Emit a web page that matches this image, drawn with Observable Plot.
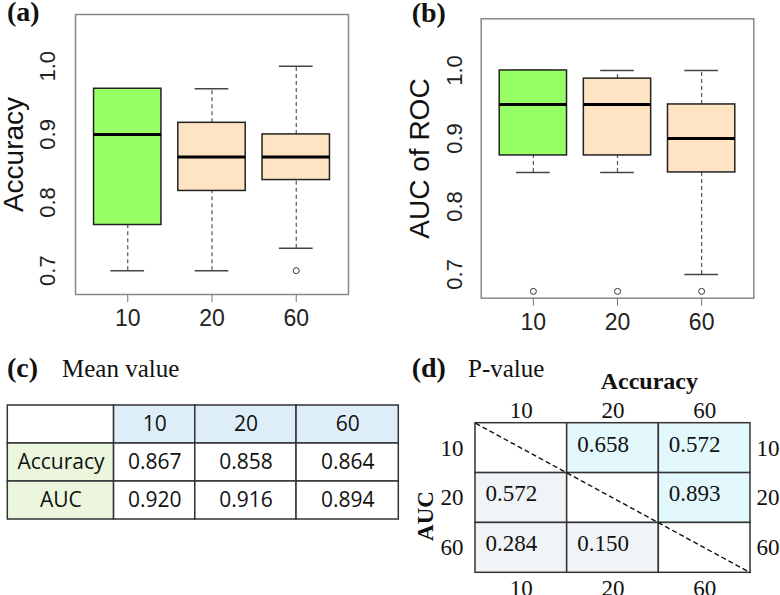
<!DOCTYPE html>
<html><head><meta charset="utf-8">
<script src="https://cdn.jsdelivr.net/npm/d3@7"></script>
<script src="https://cdn.jsdelivr.net/npm/@observablehq/plot@0.6"></script>
<style>
html,body{margin:0;padding:0;background:#fff;}
#root{position:relative;width:780px;height:595px;overflow:hidden;background:#fff;}
#root > .p{position:absolute;}
#root svg{overflow:visible;}
</style></head><body><div id="root"></div>
<script>
// ---------------- data ----------------
const groups = ["10", "20", "60"];
// (a) Accuracy box statistics
const accLower   = [0.700, 0.700, 0.733];
const accQ1      = [0.767, 0.817, 0.833];
const accMedian  = [0.900, 0.867, 0.867];
const accQ3      = [0.967, 0.917, 0.900];
const accUpper   = [0.967, 0.967, 1.000];
const accOutliers = [[], [], [0.700]];
// (b) AUC of ROC box statistics
const aucLower   = [0.850, 0.850, 0.700];
const aucQ1      = [0.875, 0.875, 0.850];
const aucMedian  = [0.950, 0.950, 0.900];
const aucQ3      = [1.000, 0.988, 0.950];
const aucUpper   = [1.000, 1.000, 1.000];
const aucOutliers = [[0.675], [0.675], [0.675]];
const yTicks = [0.7, 0.8, 0.9, 1.0];
// (c) mean values
const meanRows = ["Accuracy", "AUC"];
const meanAccuracy = [0.867, 0.858, 0.864];
const meanAUC      = [0.920, 0.916, 0.894];
// (d) p-values
const pairs = [["10", "20"], ["10", "60"], ["20", "60"]];
const pAccuracy = [0.658, 0.572, 0.893];
const pAUC      = [0.572, 0.284, 0.150];

// ---------------- style ----------------
const boxFills = ["#99FF66", "#FFE4C4", "#FFE4C4"];
const sans = "'Liberation Sans', Arial, sans-serif";
const serif = "'Liberation Serif', 'Times New Roman', serif";
const root = document.getElementById("root");

function place(node, left, top) {
  node.classList.add("p");
  node.style.left = left + "px";
  node.style.top = top + "px";
  root.appendChild(node);
}

function boxPlot(s, L) {
  const data = groups.map((g, i) => ({g, i: i + 1, lo: s.lower[i], q1: s.q1[i], med: s.median[i], q3: s.q3[i], hi: s.upper[i]}));
  const outs = groups.flatMap((g, i) => s.outliers[i].map(v => ({g, i: i + 1, v})));
  const half = 0.4, cap = 0.2;
  return Plot.plot({
    width: L.width, height: L.height,
    marginLeft: L.ml, marginRight: L.mr, marginTop: L.mt, marginBottom: L.mb,
    style: {fontFamily: sans, background: "transparent", overflow: "visible"},
    x: {domain: [0.38, 3.62]},
    y: {domain: [0.665, 1.076]},
    color: {domain: groups, range: boxFills},
    marks: [
      Plot.ruleX(data, {x: "i", y1: "q3", y2: "hi", stroke: "#555", strokeWidth: 1.2, strokeDasharray: "4,3"}),
      Plot.ruleX(data, {x: "i", y1: "lo", y2: "q1", stroke: "#555", strokeWidth: 1.2, strokeDasharray: "4,3"}),
      Plot.ruleY(data, {y: "hi", x1: d => d.i - cap, x2: d => d.i + cap, stroke: "#444", strokeWidth: 1.5}),
      Plot.ruleY(data, {y: "lo", x1: d => d.i - cap, x2: d => d.i + cap, stroke: "#444", strokeWidth: 1.5}),
      Plot.rect(data, {x1: d => d.i - half, x2: d => d.i + half, y1: "q1", y2: "q3", fill: "g", stroke: "#222", strokeWidth: 1.5}),
      Plot.ruleY(data, {y: "med", x1: d => d.i - half, x2: d => d.i + half, stroke: "#000", strokeWidth: 3}),
      Plot.dot(outs, {x: "i", y: "v", r: 3, stroke: "#333", strokeWidth: 1, fill: "none"}),
      Plot.frame({stroke: "#888", strokeWidth: 1.5}),
      Plot.axisX({ticks: [1, 2, 3], tickFormat: t => groups[t - 1], tickSize: 8, tickPadding: 7, stroke: "#777", fill: "#222", fontSize: 23, label: null}),
      Plot.axisY({ticks: yTicks, tickFormat: d3.format(".1f"), tickRotate: -90, tickSize: 0, tickPadding: L.tp, fill: "#222", fontSize: 22, label: null}),
      Plot.text([s.label], {frameAnchor: "left", textAnchor: "middle", lineAnchor: "middle", dx: L.ldx, rotate: -90, fontSize: 28, fill: "#111", text: d => d})
    ]
  });
}

// (a)
place(boxPlot({lower: accLower, q1: accQ1, median: accMedian, q3: accQ3, upper: accUpper, outliers: accOutliers, label: "Accuracy"},
  {width: 390, height: 330, ml: 75, mr: 42, mt: 14, mb: 36, tp: 21, ldx: -61.5}), 0, 0);
// (b)
place(boxPlot({lower: aucLower, q1: aucQ1, median: aucMedian, q3: aucQ3, upper: aucUpper, outliers: aucOutliers, label: "AUC of ROC"},
  {width: 390, height: 334, ml: 90.7, mr: 26.7, mt: 18.3, mb: 36.3, tp: 19, ldx: -61.5}), 390, 0);

// (c) mean value table
const tableColWeights = [106, 81, 101, 102];   // layout: relative column widths
const bounds = d3.cumsum([0, ...tableColWeights]);
const headKey = " ";
const meanCells = [{row: headKey, c: 0, label: "", fill: "#FFFFFF"}]
  .concat(groups.map((g, j) => ({row: headKey, c: j + 1, label: g, fill: "#DDEEF9"})))
  .concat(meanRows.flatMap((r, k) => {
    const vals = k === 0 ? meanAccuracy : meanAUC;
    return [{row: r, c: 0, label: r, fill: "#EBF6DD"}]
      .concat(vals.map((v, j) => ({row: r, c: j + 1, label: v.toFixed(3), fill: "#FFFFFF"})));
  }));
place(Plot.plot({
  width: 400, height: 130, marginLeft: 7.3, marginRight: 1.7, marginTop: 9.3, marginBottom: 6.3,
  style: {fontFamily: "'Open Sans', 'Noto Sans', sans-serif", background: "transparent", overflow: "visible"},
  x: {domain: [0, bounds[bounds.length - 1]], axis: null},
  y: {type: "band", domain: [headKey, ...meanRows], padding: 0, axis: null},
  color: {type: "identity"},
  marks: [
    Plot.barX(meanCells, {x1: d => bounds[d.c], x2: d => bounds[d.c + 1], y: "row", fill: "fill", stroke: "#333", strokeWidth: 1.5}),
    Plot.text(meanCells, {x: d => (bounds[d.c] + bounds[d.c + 1]) / 2, y: "row", text: "label", fontSize: 21, fill: "#111"})
  ]
}), 0, 395);

// (d) p-value grid
const pCells = [];
groups.forEach((rg, r) => groups.forEach((cg, c) => {
  let v = null, kind = "diag";
  if (c > r) { v = pAccuracy[pairs.findIndex(p => p[0] === rg && p[1] === cg)]; kind = "acc"; }
  else if (c < r) { v = pAUC[pairs.findIndex(p => p[0] === cg && p[1] === rg)]; kind = "auc"; }
  pCells.push({r, c, v, kind});
}));
const n = groups.length;
const mid = groups.map((g, i) => i + 0.5);
const lab = t => groups[Math.floor(t)];
place(Plot.plot({
  width: 390, height: 200, marginLeft: 85, marginRight: 30, marginTop: 27.7, marginBottom: 22.7,
  style: {fontFamily: serif, background: "transparent", overflow: "visible"},
  x: {domain: [0, n]},
  y: {domain: [0, n], reverse: true},
  color: {domain: ["acc", "auc", "diag"], range: ["#E2F8FC", "#F0F4F7", "#FFFFFF"]},
  marks: [
    Plot.rect(pCells, {x1: "c", x2: d => d.c + 1, y1: "r", y2: d => d.r + 1, fill: "kind", stroke: "#333", strokeWidth: 1.5}),
    Plot.link([groups], {x1: 0, y1: 0, x2: n, y2: n, stroke: "#111", strokeWidth: 1.4, strokeDasharray: "5,3"}),
    Plot.text(pCells.filter(d => d.v != null), {x: "c", y: d => d.r + 0.5, dx: 10, dy: -4, textAnchor: "start", text: d => d.v.toFixed(3), fontSize: 23, fill: "#111"}),
    Plot.axisX({anchor: "top", ticks: mid, tickFormat: lab, tickSize: 0, tickPadding: 5, fontSize: 23, fill: "#111", label: null}),
    Plot.axisX({anchor: "bottom", ticks: mid, tickFormat: lab, tickSize: 0, tickPadding: 7, fontSize: 23, fill: "#111", label: null}),
    Plot.axisY({anchor: "left", ticks: mid, tickFormat: lab, tickSize: 0, tickPadding: 12, fontSize: 23, fill: "#111", label: null}),
    Plot.axisY({anchor: "right", ticks: mid, tickFormat: lab, tickSize: 0, tickPadding: 6, fontSize: 23, fill: "#111", label: null})
  ]
}), 390, 395);

// ---------------- titles ----------------
const svg = d3.create("svg").attr("width", 780).attr("height", 595)
  .style("position", "absolute").style("left", "0px").style("top", "0px").style("pointer-events", "none");
const titles = [
  {t: "(a)", x: 7, y: 21, size: 28, bold: true},
  {t: "(b)", x: 411.7, y: 22, size: 28, bold: true},
  {t: "(c)", x: 7, y: 377, size: 28, bold: true},
  {t: "Mean value", x: 62, y: 377, size: 25, bold: false},
  {t: "(d)", x: 411.7, y: 376.5, size: 28, bold: true},
  {t: "P-value", x: 468, y: 376.5, size: 25, bold: false},
  {t: "Accuracy", x: 600.7, y: 389, size: 24, bold: true}
];
svg.selectAll("text.t").data(titles).join("text").attr("class", "t")
  .attr("x", d => d.x).attr("y", d => d.y)
  .attr("font-family", serif).attr("font-size", d => d.size)
  .attr("font-weight", d => d.bold ? "bold" : "normal").attr("fill", "#111")
  .text(d => d.t);
svg.append("text").attr("transform", "translate(433,516) rotate(-90)")
  .attr("text-anchor", "middle").attr("font-family", serif).attr("font-size", 23)
  .attr("font-weight", "bold").attr("fill", "#111").text("AUC");
root.appendChild(svg.node());
</script>
</body></html>
